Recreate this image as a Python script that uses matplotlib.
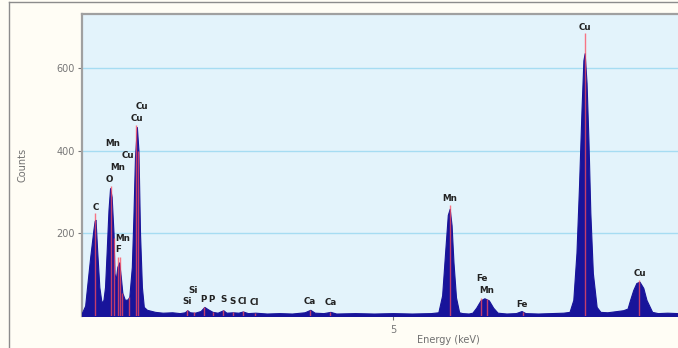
import numpy as np
import matplotlib.pyplot as plt
from matplotlib.lines import Line2D

# spectrum (energy keV, counts)
energy = [0.07, 0.12, 0.15, 0.20, 0.25, 0.27, 0.285, 0.31, 0.345, 0.38, 0.41, 0.435,
          0.46, 0.49, 0.515, 0.54, 0.57, 0.585, 0.605, 0.63, 0.66, 0.685, 0.71, 0.75,
          0.79, 0.82, 0.86, 0.885, 0.91, 0.94, 0.965, 0.99, 1.02, 1.05, 1.10, 1.23,
          1.35, 1.50, 1.62, 1.70, 1.74, 1.78, 1.86, 1.95, 2.01, 2.07, 2.14, 2.22, 2.31,
          2.36, 2.46, 2.55, 2.62, 2.70, 2.82, 3.00, 3.20, 3.40, 3.60, 3.69, 3.76, 3.90,
          4.01, 4.10, 4.40, 4.70, 5.00, 5.30, 5.60, 5.72, 5.78, 5.83, 5.87, 5.90, 5.93,
          5.96, 6.00, 6.05, 6.10, 6.20, 6.26, 6.32, 6.39, 6.45, 6.52, 6.59, 6.66, 6.80,
          6.95, 7.04, 7.10, 7.30, 7.50, 7.70, 7.80, 7.86, 7.91, 7.95, 7.99, 8.02, 8.04,
          8.07, 8.10, 8.13, 8.17, 8.23, 8.29, 8.40, 8.55, 8.65, 8.72, 8.76, 8.81, 8.86,
          8.91, 8.97, 9.02, 9.11, 9.20, 9.35, 9.52]
counts = [8, 25, 70, 143, 208, 230, 233, 160, 70, 32, 39, 70,
          153, 257, 310, 289, 200, 104, 87, 119, 130, 95, 56, 39,
          40, 46, 119, 240, 385, 458, 402, 200, 70, 22, 15, 10,
          8, 9, 7, 9, 14, 9, 8, 12, 22, 16, 10, 8, 14,
          8, 9, 8, 11, 7, 8, 6, 7, 6, 9, 15, 8, 7,
          10, 6, 7, 6, 7, 6, 7, 9, 50, 160, 245, 260, 220,
          130, 45, 9, 7, 6, 8, 20, 38, 43, 38, 20, 8, 6,
          7, 12, 7, 6, 7, 8, 10, 39, 153, 313, 500, 620, 637,
          565, 427, 250, 104, 22, 10, 9, 12, 14, 18, 39, 63, 80,
          83, 68, 39, 10, 7, 8, 7]

# element line markers (energy, marker height)
line_e = [0.277, 0.525, 0.57, 0.637, 0.677, 0.71, 0.81, 0.93, 0.95, 1.74, 1.84, 2.01,
          2.14, 2.31, 2.46, 2.62, 2.82, 3.69, 4.01, 5.90, 6.40, 6.49, 7.06, 8.04, 8.90]
line_h = [250, 315, 190, 143, 143, 55, 45, 463, 400, 14, 9, 22,
          10, 15, 9, 12, 8, 15, 9, 269, 43, 40, 10, 686, 88]

# element labels (text, energy, counts)
lbl_txt = ['C', 'O', 'Mn', 'Mn', 'Cu', 'Cu', 'Cu', 'Mn', 'F', 'Si', 'Si', 'P', 'P',
           'S', 'S', 'Cl', 'Cl', 'Ca', 'Ca', 'Mn', 'Fe', 'Mn', 'Fe', 'Cu', 'Cu']
lbl_e = [0.29, 0.50, 0.64, 0.56, 0.80, 0.94, 1.02, 0.72, 0.64, 1.73, 1.83, 2.00, 2.13,
         2.31, 2.46, 2.62, 2.81, 3.68, 4.02, 5.90, 6.41, 6.49, 7.04, 8.04, 8.91]
lbl_c = [262, 330, 359, 417, 390, 478, 507, 187, 162, 34, 61, 41, 39,
         41, 34, 34, 32, 36, 32, 286, 92, 63, 27, 700, 104]

fig = plt.figure(figsize=(6.78, 3.48), dpi=100, facecolor='#fffdf5')
ax = fig.add_axes([82/678, 32/348, 596/678, 302/348])
ax.set_facecolor('#e3f3fb')

# outer panel frame
fig.add_artist(Line2D([9/678, 9/678], [0, 346/348], transform=fig.transFigure, color='#8c8c8c', lw=1))
fig.add_artist(Line2D([9/678, 1], [346/348, 346/348], transform=fig.transFigure, color='#8c8c8c', lw=1))

ax.fill_between(energy, 0, counts, color='#18149a', lw=0.8, edgecolor='#18149a', zorder=3)
ax.vlines(line_e, 0, line_h, color='#ff4a5c', lw=1, alpha=0.75, zorder=4)

for t, e, c in zip(lbl_txt, lbl_e, lbl_c):
    ax.text(e, c, t, ha='center', va='center', fontsize=6.3, fontweight='bold', color='#222222', zorder=5)

ax.set_xlim(0.07, 9.52)
ax.set_ylim(0, 732)
ax.set_yticks([200, 400, 600])
ax.set_xticks([5])
ax.grid(axis='y', color='#a6dcf2', lw=1, zorder=1)
ax.tick_params(axis='both', labelsize=7, colors='#777777', length=3, width=0.8)
ax.tick_params(axis='y', pad=2)

for s in ['right', 'bottom']:
    ax.spines[s].set_visible(False)
for s in ['left', 'top']:
    ax.spines[s].set_color('#a0a0a0')
    ax.spines[s].set_linewidth(1.6)

ax.set_ylabel('Counts', fontsize=7, color='#707070')
ax.set_xlabel('Energy (keV)', fontsize=7, color='#707070')
ax.xaxis.set_label_coords((448-82)/596, -(335-316)/302)
ax.yaxis.set_label_coords(-(82-27)/596, (316-165)/302)

fig.savefig('out.png', dpi=100, facecolor=fig.get_facecolor())
